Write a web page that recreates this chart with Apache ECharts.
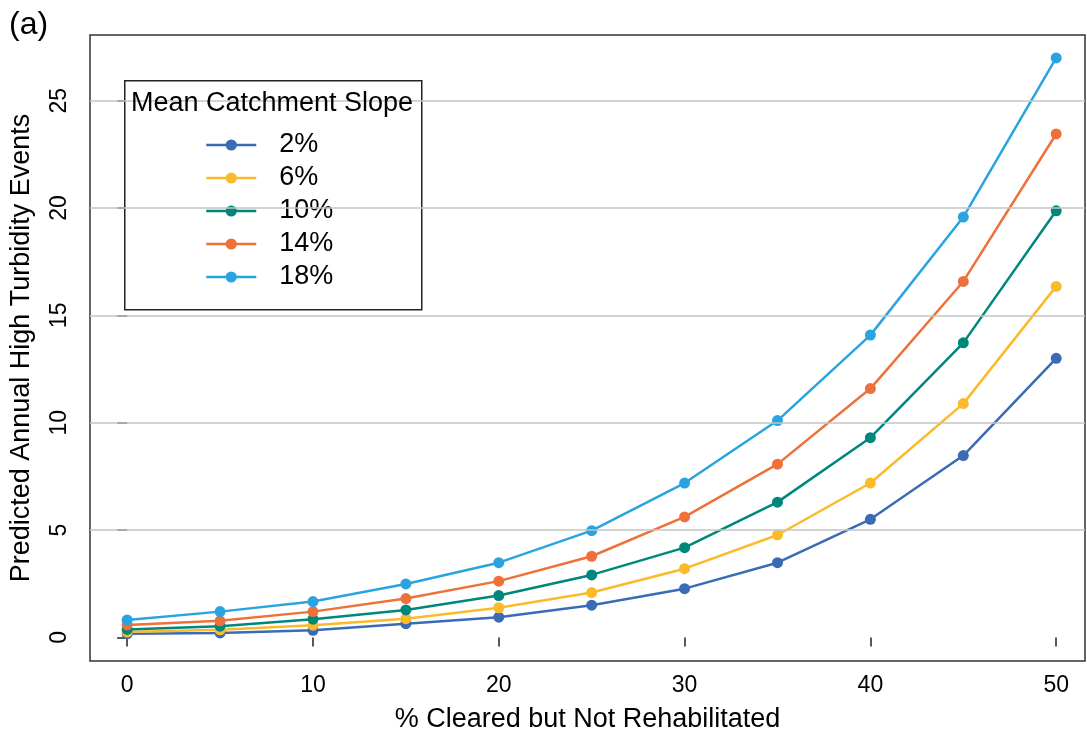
<!DOCTYPE html>
<html>
<head>
<meta charset="utf-8">
<title>Predicted Annual High Turbidity Events</title>
<script src="https://cdn.jsdelivr.net/npm/echarts@6/dist/echarts.min.js"></script>
<style>
  html, body { margin: 0; padding: 0; background: #fff; }
  #chart { width: 1087px; height: 738px; }
</style>
</head>
<body>
<div id="chart"></div>
<script>
// % of catchment cleared but not rehabilitated
const cleared = [0, 5, 10, 15, 20, 25, 30, 35, 40, 45, 50];

// Predicted annual high-turbidity events per mean catchment slope
const slope2 = [0.17, 0.21, 0.33, 0.64, 0.94, 1.50, 2.27, 3.48, 5.50, 8.47, 13.0];
const slope6 = [0.25, 0.35, 0.57, 0.87, 1.38, 2.09, 3.20, 4.77, 7.19, 10.89, 16.35];
const slope10 = [0.37, 0.52, 0.85, 1.28, 1.95, 2.91, 4.18, 6.30, 9.30, 13.72, 19.87];
const slope14 = [0.58, 0.77, 1.20, 1.81, 2.62, 3.78, 5.61, 8.07, 11.59, 16.58, 23.45];
const slope18 = [0.81, 1.20, 1.67, 2.49, 3.48, 4.97, 7.19, 10.10, 14.08, 19.58, 26.99];

const seriesNames = ['2%', '6%', '10%', '14%', '18%'];
const seriesValues = [slope2, slope6, slope10, slope14, slope18];
const seriesColors = ['#3A6BB6', '#FBBA2A', '#00877C', '#EE7139', '#2AA4E0'];

const xTicks = [0, 10, 20, 30, 40, 50];
const yTicks = [0, 5, 10, 15, 20, 25];
const yGrid = [5, 10, 15, 20, 25];

const FONT = '"Liberation Sans", Arial, sans-serif';

const chart = echarts.init(document.getElementById('chart'), null, { renderer: 'canvas' });

const lineSeries = seriesNames.map((name, i) => ({
  name: name,
  type: 'line',
  data: cleared.map((x, j) => [x, seriesValues[i][j]]),
  symbol: 'circle',
  symbolSize: 11,
  showSymbol: true,
  lineStyle: { color: seriesColors[i], width: 2.5 },
  itemStyle: { color: seriesColors[i] },
  emphasis: { disabled: true },
  z: 3
}));

// horizontal reference lines behind the curves
const gridSeries = {
  name: 'grid',
  type: 'line',
  data: [],
  silent: true,
  z: 1,
  markLine: {
    silent: true,
    symbol: ['none', 'none'],
    label: { show: false },
    animation: false,
    lineStyle: { color: '#C4C4C4', width: 1.5, type: 'solid' },
    data: yGrid.map(v => ({ yAxis: v }))
  }
};

const option = {
  animation: false,
  backgroundColor: '#ffffff',
  textStyle: { fontFamily: FONT },
  grid: {
    show: true,
    left: 87,
    top: 35,
    right: 2,
    bottom: 76,
    borderColor: '#333333',
    borderWidth: 1.5,
    containLabel: false
  },
  xAxis: {
    type: 'value',
    min: -2,
    max: 51.55,
    name: '% Cleared but Not Rehabilitated',
    nameLocation: 'middle',
    nameGap: 45,
    nameTextStyle: { fontSize: 27, color: '#000', fontFamily: FONT },
    axisLine: { show: false },
    axisTick: { show: true, inside: false, length: 9, customValues: xTicks, lineStyle: { color: '#222', width: 1.5 } },
    axisLabel: { customValues: xTicks, fontSize: 23, color: '#000', margin: 13, fontFamily: FONT },
    splitLine: { show: false }
  },
  yAxis: {
    type: 'value',
    min: -1.1,
    max: 28.06,
    name: 'Predicted Annual High Turbidity Events',
    nameLocation: 'middle',
    nameGap: 55,
    nameTextStyle: { fontSize: 27, color: '#000', fontFamily: FONT },
    axisLine: { show: false },
    axisTick: { show: true, inside: false, length: 10, customValues: yTicks, lineStyle: { color: '#222', width: 1.5 } },
    axisLabel: { customValues: yTicks, rotate: 90, fontSize: 23, color: '#000', margin: 19, fontFamily: FONT },
    splitLine: { show: false }
  },
  legend: {
    show: true,
    data: seriesNames,
    orient: 'vertical',
    left: 200,
    top: 126,
    itemWidth: 50,
    itemHeight: 14,
    itemGap: 5,
    z: 5,
    selectedMode: false,
    lineStyle: { width: 2.5 },
    itemStyle: { borderWidth: 0 },
    textStyle: { fontSize: 27, lineHeight: 28, color: '#000', fontFamily: FONT, padding: [0, 0, 0, 18] }
  },
  graphic: [
    {
      type: 'rect',
      left: 124,
      top: 80,
      shape: { width: 297, height: 229 },
      style: { fill: '#ffffff', stroke: '#222222', lineWidth: 1.5 },
      z: 2
    },
    {
      type: 'text',
      style: {
        x: 272, y: 104,
        text: 'Mean Catchment Slope',
        font: '27px ' + FONT,
        fill: '#000',
        textAlign: 'center',
        textVerticalAlign: 'middle'
      },
      z: 11
    },
    {
      type: 'text',
      style: {
        x: 9, y: 25,
        text: '(a)',
        font: '32px ' + FONT,
        fill: '#000',
        textAlign: 'left',
        textVerticalAlign: 'middle'
      },
      z: 11
    }
  ],
  series: [gridSeries].concat(lineSeries)
};

chart.setOption(option);
</script>
</body>
</html>
